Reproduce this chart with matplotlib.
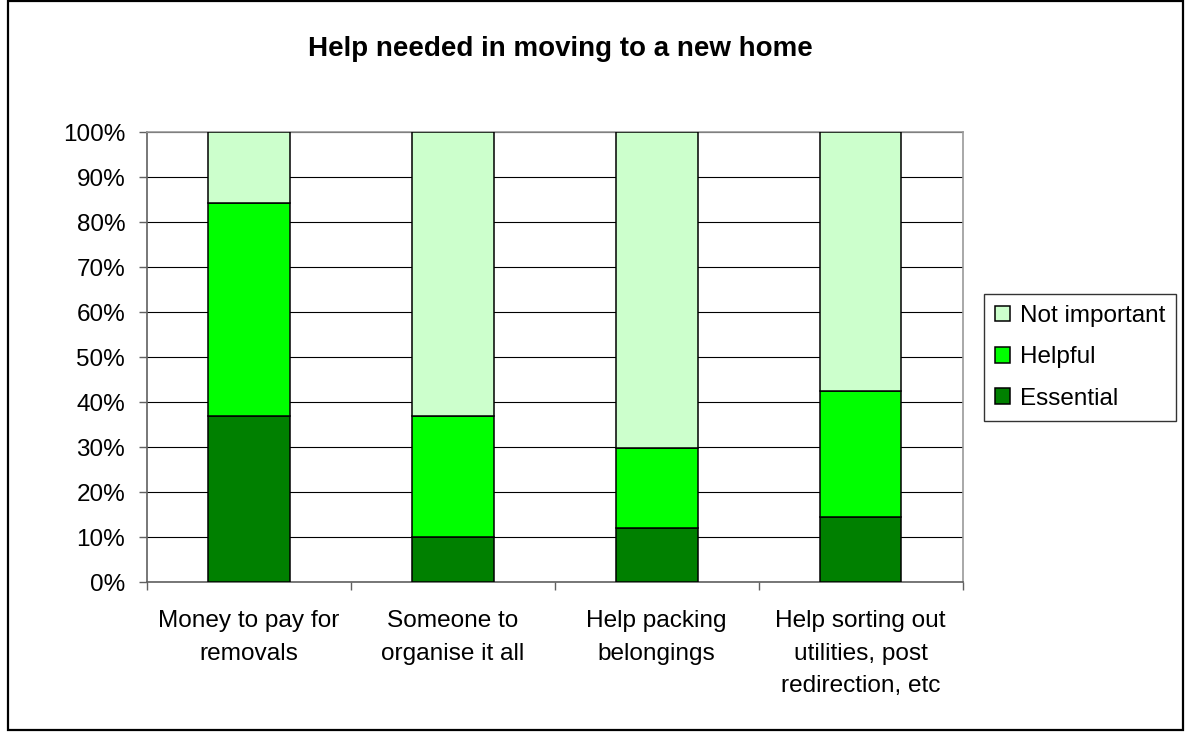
import matplotlib
matplotlib.use("Agg")
import matplotlib.pyplot as plt
from matplotlib.patches import Rectangle
import numpy as np

plt.rcParams['font.family'] = ['Liberation Sans', 'DejaVu Sans']

# Survey data: share of responses per kind of help (percent)
categories = [
    "Money to pay for\nremovals",
    "Someone to\norganise it all",
    "Help packing\nbelongings",
    "Help sorting out\nutilities, post\nredirection, etc",
]
essential = [37.0, 10.1, 12.0, 14.6]
helpful = [47.4, 26.9, 17.8, 28.0]
not_important = [15.6, 63.0, 70.2, 57.4]

series_names = ["Essential", "Helpful", "Not important"]
series_colors = ["#008000", "#00FF00", "#CCFFCC"]
y_ticks = [0, 10, 20, 30, 40, 50, 60, 70, 80, 90, 100]

W, H = 1188, 732
fig = plt.figure(figsize=(W / 100, H / 100), dpi=100)
ax = fig.add_axes([146.7 / W, 1 - 582.3 / H, (962.7 - 146.7) / W, (582.3 - 132.3) / H])

x = np.arange(len(categories))
bottom = np.zeros(len(categories))
bars = []
for name, vals, col in zip(series_names, [essential, helpful, not_important], series_colors):
    b = ax.bar(x, vals, width=0.4, bottom=bottom, color=col, edgecolor="black",
               linewidth=1.1, label=name, zorder=3)
    bars.append(b)
    bottom += np.array(vals)

ax.set_xlim(-0.5, len(categories) - 0.5)
ax.set_ylim(0, 100)
ax.set_yticks(y_ticks)
ax.set_yticklabels([f"{v}%" for v in y_ticks])
ax.yaxis.grid(True, color="black", linewidth=0.8, zorder=0)
ax.set_axisbelow(True)

# Category ticks sit on the boundaries; names are centred under each bar
ax.set_xticks(np.arange(len(categories) + 1) - 0.5)
ax.set_xticklabels([])
ax.tick_params(axis="x", length=6, width=1, color="#606060", direction="out")
for xi, name in zip(x, categories):
    ax.annotate(name, xy=(xi, 0), xycoords=("data", "axes fraction"),
                xytext=(0, -20), textcoords="offset points", ha="center", va="top",
                fontsize=17.6, linespacing=1.63, annotation_clip=False)

ax.tick_params(axis="y", length=6, width=1, color="#606060", pad=9.5, labelsize=17.5)

for side in ("left", "bottom"):
    ax.spines[side].set_color("#606060")
    ax.spines[side].set_linewidth(1.2)
for side in ("top", "right"):
    ax.spines[side].set_color("#9a9a9a")
    ax.spines[side].set_linewidth(1.2)

# Legend, listed from top series down
handles = bars[::-1]
leg = fig.legend(handles, series_names[::-1], loc="upper left",
                 bbox_to_anchor=(984 / W, 1 - 294 / H), bbox_transform=fig.transFigure,
                 borderaxespad=0, fontsize=17.5, frameon=True, fancybox=False,
                 edgecolor="black", handlelength=0.62, handleheight=0.62,
                 handletextpad=0.4, labelspacing=0.8, borderpad=0.45)
leg.get_frame().set_linewidth(1.0)

fig.text(560 / W, 1 - 56 / H, "Help needed in moving to a new home", ha="center",
         va="baseline", fontsize=20, fontweight="bold")

# Chart-area border
fig.patches.append(Rectangle((8 / W, 2 / H), (1183 - 8) / W, (731 - 2) / H,
                             transform=fig.transFigure, fill=False,
                             edgecolor="black", linewidth=1.6))

fig.savefig("out.png", dpi=100)
